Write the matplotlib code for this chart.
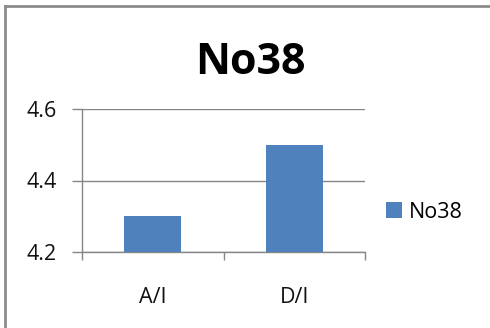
import matplotlib
matplotlib.use("Agg")
import matplotlib.pyplot as plt
from matplotlib.lines import Line2D

categories = ["A/I", "D/I"]
values = [4.3, 4.5]
series_name = "No38"
title = "No38"
yticks = [4.2, 4.4, 4.6]

font = ["Open Sans", "DejaVu Sans"]
plt.rcParams['font.family'] = font

fig = plt.figure(figsize=(4.9, 3.28), dpi=100)
ax = fig.add_axes([82/490, 1-252/328, (365-82)/490, (252-109)/328])

pos = list(range(1, len(categories)+1))
bars = ax.bar(pos, values, width=0.4, color="#4F81BD", label=series_name, zorder=3)
ax.set_ylim(4.2, 4.6)
ax.set_xlim(0.5, len(categories)+0.5)
ax.set_yticks(yticks)
ax.set_yticklabels([f"{v:.1f}" for v in yticks], fontsize=15.5, color="#111111")
ax.set_xticks(pos)
ax.set_xticklabels(categories, fontsize=15.5, color="#111111")
ax.set_xticks([p-0.5 for p in pos] + [pos[-1]+0.5], minor=True)
ax.tick_params(axis='x', which='major', length=0, pad=25)
ax.tick_params(axis='x', which='minor', length=6, color="#868686", width=1, direction='out')
ax.tick_params(axis='y', length=7, color="#868686", width=1, pad=11)
ax.grid(axis='y', color="#868686", linewidth=1, zorder=0)
for s in ['top', 'right']:
    ax.spines[s].set_visible(False)
for s in ['left', 'bottom']:
    ax.spines[s].set_color("#868686")
    ax.spines[s].set_linewidth(1)
ax.set_axisbelow(True)

fig.text(250/490, 1-62/328, title, ha='center', va='center', fontsize=31, fontweight='bold')

fig.legend(handles=[bars], labels=[series_name], loc='center left',
           bbox_to_anchor=(386/490, 1-212/328), frameon=False, fontsize=15.5,
           handlelength=0.72, handleheight=0.72, handletextpad=0.35, borderpad=0, borderaxespad=0)

fig.add_artist(Line2D([5/490, 1], [1-6/328, 1-6/328], transform=fig.transFigure, color="#8c8c8c", linewidth=2))
fig.add_artist(Line2D([5/490, 5/490], [0, 1-6/328], transform=fig.transFigure, color="#8c8c8c", linewidth=2))

fig.savefig("out.png", dpi=100, facecolor="white")
